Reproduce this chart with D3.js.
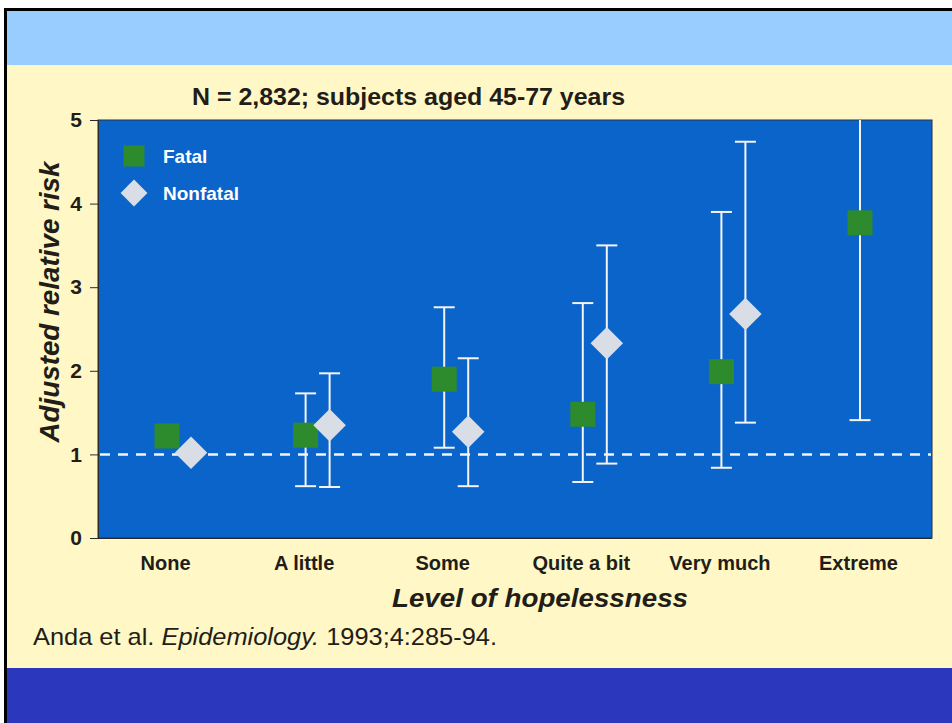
<!DOCTYPE html>
<html>
  <head>
    <meta charset="utf-8" />
    <title>Hopelessness and relative risk</title>
    <style>
      body {
        margin: 0;
        background: #fff;
      }
      svg text {
        font-family: "Liberation Sans", Arial, Helvetica, sans-serif;
        fill: #221d16;
      }
    </style>
  </head>

  <body>
    <div id="chart"></div>

    <script src="https://cdnjs.cloudflare.com/ajax/libs/d3/7.8.5/d3.min.js"></script>
    <script>
      // data
      var categories = ["None", "A little", "Some", "Quite a bit", "Very much", "Extreme"];
      var fatalRisk = [1.22, 1.23, 1.9, 1.48, 1.99, 3.77];
      var fatalLow = [null, 0.62, 1.08, 0.67, 0.84, 1.41];
      var fatalHigh = [null, 1.73, 2.76, 2.81, 3.9, 6.0]; // extreme runs off the top
      var nonfatalRisk = [1.02, 1.35, 1.27, 2.33, 2.68, null];
      var nonfatalLow = [null, 0.61, 0.62, 0.89, 1.38, null];
      var nonfatalHigh = [null, 1.97, 2.15, 3.5, 4.74, null];
      var yTicks = [0, 1, 2, 3, 4, 5];
      var series = ["Fatal", "Nonfatal"];

      var width = 952, height = 723;
      var plot = { left: 98, right: 932, top: 120, bottom: 538 };

      var svg = d3.select("#chart").append("svg")
        .attr("width", width)
        .attr("height", height);

      // slide background
      svg.append("rect").attr("x", 0).attr("y", 0).attr("width", width).attr("height", height).attr("fill", "#fff");
      svg.append("rect").attr("x", 5).attr("y", 10).attr("width", width).attr("height", 58).attr("fill", "#99ccff");
      svg.append("rect").attr("x", 5).attr("y", 65).attr("width", width).attr("height", 603).attr("fill", "#fff7c6");
      svg.append("rect").attr("x", 5).attr("y", 668).attr("width", width).attr("height", 60).attr("fill", "#2b38bd");
      svg.append("path")
        .attr("d", "M5.5," + height + "V9.5H" + width)
        .attr("fill", "none")
        .attr("stroke", "#000")
        .attr("stroke-width", 3);

      // scales
      var x = d3.scalePoint().domain(categories).range([165, 858]);
      var y = d3.scaleLinear().domain([0, 5]).range([plot.bottom, plot.top]);
      var offset = { Fatal: 2, Nonfatal: 26 };

      // blue plotting area
      svg.append("rect")
        .attr("x", plot.left)
        .attr("y", plot.top)
        .attr("width", plot.right - plot.left)
        .attr("height", plot.bottom - plot.top)
        .attr("fill", "#0b64ca")
        .attr("stroke", "#23324a")
        .attr("stroke-width", 1);

      // y axis
      var yAxis = svg.append("g")
        .attr("transform", "translate(" + plot.left + ",0)")
        .call(d3.axisLeft(y).tickValues(yTicks).tickSize(8).tickPadding(8).tickFormat(d3.format("d")));
      yAxis.select(".domain").attr("stroke", "#2b2b2b");
      yAxis.selectAll(".tick line").attr("stroke", "#2b2b2b");
      yAxis.selectAll(".tick text")
        .attr("font-size", 21)
        .attr("font-weight", "bold")
        .style("font-family", "'Liberation Sans', Arial, sans-serif")
        .attr("fill", "#221d16");

      // x axis (labels only)
      var xAxis = svg.append("g")
        .attr("transform", "translate(0," + plot.bottom + ")")
        .call(d3.axisBottom(x).tickSize(0).tickPadding(18));
      xAxis.select(".domain").attr("d", "M" + (plot.left - 8) + ",0.5H" + plot.right).attr("stroke", "#2b2b2b");
      xAxis.selectAll(".tick text")
        .attr("font-size", 20)
        .attr("font-weight", "bold")
        .style("font-family", "'Liberation Sans', Arial, sans-serif")
        .attr("fill", "#221d16");

      // reference line at 1
      svg.append("line")
        .attr("x1", plot.left + 2)
        .attr("x2", plot.right - 1)
        .attr("y1", y(1))
        .attr("y2", y(1))
        .attr("stroke", "#f4f4f4")
        .attr("stroke-width", 2.5)
        .attr("stroke-dasharray", "10,8");

      // build rows for each series
      var rows = [];
      categories.forEach(function(c, i) {
        if (fatalRisk[i] != null) rows.push({ cat: c, s: "Fatal", v: fatalRisk[i], lo: fatalLow[i], hi: fatalHigh[i] });
        if (nonfatalRisk[i] != null) rows.push({ cat: c, s: "Nonfatal", v: nonfatalRisk[i], lo: nonfatalLow[i], hi: nonfatalHigh[i] });
      });

      function cx(d) { return x(d.cat) + offset[d.s]; }
      var capW = 21;
      var yMax = y.domain()[1];

      var bars = svg.append("g").selectAll("g")
        .data(rows.filter(function(d) { return d.lo != null; }))
        .enter().append("g")
        .attr("stroke", "#f4f4f4")
        .attr("stroke-width", 2);

      bars.append("line")
        .attr("x1", cx).attr("x2", cx)
        .attr("y1", function(d) { return y(d.lo); })
        .attr("y2", function(d) { return y(Math.min(d.hi, yMax)); });
      bars.append("line")
        .attr("x1", function(d) { return cx(d) - capW / 2; })
        .attr("x2", function(d) { return cx(d) + capW / 2; })
        .attr("y1", function(d) { return y(d.lo); })
        .attr("y2", function(d) { return y(d.lo); });
      bars.filter(function(d) { return d.hi <= yMax; }).append("line")
        .attr("x1", function(d) { return cx(d) - capW / 2; })
        .attr("x2", function(d) { return cx(d) + capW / 2; })
        .attr("y1", function(d) { return y(d.hi); })
        .attr("y2", function(d) { return y(d.hi); });

      // markers
      var colors = { Fatal: "#2d8b2e", Nonfatal: "#d9dee6" };
      var shapes = {
        Fatal: d3.symbol().type(d3.symbolSquare).size(25 * 25),
        Nonfatal: d3.symbol().type(d3.symbolSquare).size(23 * 23)
      };

      svg.append("g").selectAll("path")
        .data(rows)
        .enter().append("path")
        .attr("d", function(d) { return shapes[d.s](); })
        .attr("transform", function(d) {
          return "translate(" + cx(d) + "," + y(d.v) + ")" + (d.s === "Nonfatal" ? " rotate(45)" : "");
        })
        .attr("fill", function(d) { return colors[d.s]; });

      // legend
      var legend = svg.append("g").selectAll("g")
        .data(series)
        .enter().append("g")
        .attr("transform", function(d, i) { return "translate(134," + (156 + i * 37) + ")"; });

      legend.append("path")
        .attr("d", function(d, i) {
          return d3.symbol().type(d3.symbolSquare).size(i === 0 ? 21 * 21 : 19 * 19)();
        })
        .attr("transform", function(d, i) { return i === 1 ? "rotate(45)" : null; })
        .attr("fill", function(d) { return colors[d]; });

      legend.append("text")
        .attr("x", 29)
        .attr("y", 7)
        .attr("font-size", 19)
        .attr("font-weight", "bold")
        .style("fill", "#fff")
        .text(function(d) { return d; });

      // titles
      svg.append("text")
        .attr("x", 192)
        .attr("y", 105)
        .attr("font-size", 24)
        .attr("font-weight", "bold")
        .attr("textLength", 433)
        .attr("lengthAdjust", "spacingAndGlyphs")
        .text("N = 2,832; subjects aged 45-77 years");

      svg.append("text")
        .attr("transform", "translate(59,302) rotate(-90)")
        .attr("text-anchor", "middle")
        .attr("font-size", 27)
        .attr("font-weight", "bold")
        .attr("font-style", "italic")
        .attr("textLength", 281)
        .attr("lengthAdjust", "spacingAndGlyphs")
        .text("Adjusted relative risk");

      svg.append("text")
        .attr("x", 540)
        .attr("y", 607)
        .attr("text-anchor", "middle")
        .attr("font-size", 26)
        .attr("font-weight", "bold")
        .attr("font-style", "italic")
        .attr("textLength", 296)
        .attr("lengthAdjust", "spacingAndGlyphs")
        .text("Level of hopelessness");

      var cite = svg.append("text")
        .attr("x", 33)
        .attr("y", 645)
        .attr("font-size", 24)
        .attr("textLength", 464)
        .attr("lengthAdjust", "spacingAndGlyphs");
      cite.append("tspan").text("Anda et al. ");
      cite.append("tspan").attr("font-style", "italic").text("Epidemiology.");
      cite.append("tspan").text("  1993;4:285-94.");
    </script>
  </body>
</html>
